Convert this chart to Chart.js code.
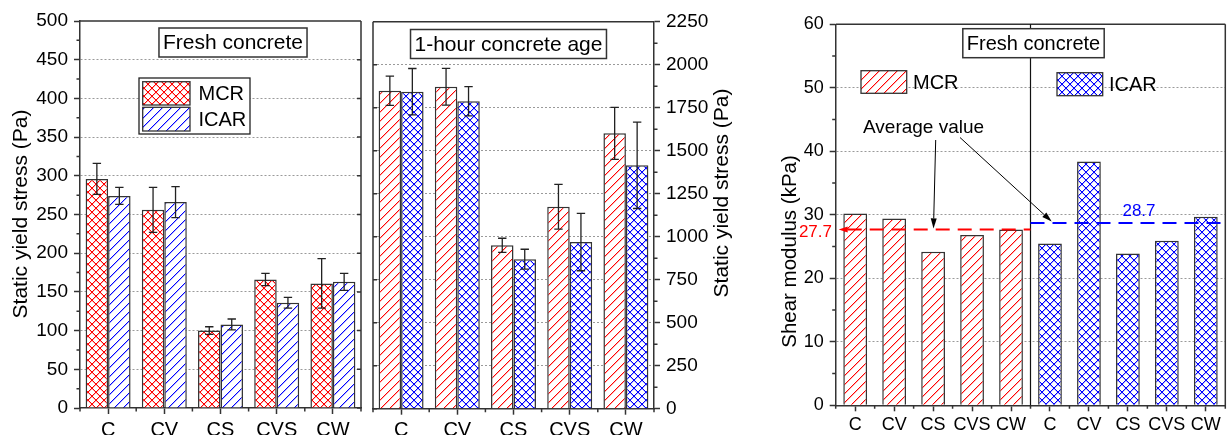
<!DOCTYPE html>
<html>
<head>
<meta charset="utf-8">
<script src="https://cdn.jsdelivr.net/npm/chart.js@4.4.1/dist/chart.umd.min.js"></script>
<style>
  body { margin: 0; width: 1228px; height: 435px; overflow: hidden; background: #fff; }
  .panel { position: absolute; top: 0; }
  #p1 { left: 0; width: 366px; height: 450px; }
  #p2 { left: 366px; width: 379px; height: 450px; }
  #p3 { left: 770px; width: 458px; height: 435px; }
</style>
</head>
<body>
<div class="panel" id="p1"><canvas id="grafico_fresh"></canvas></div>
<div class="panel" id="p2"><canvas id="grafico_hour"></canvas></div>
<div class="panel" id="p3"><canvas id="grafico_shear"></canvas></div>
<script>
const FONT = "'Liberation Sans', Arial, sans-serif"
Chart.defaults.font.family = FONT
Chart.defaults.color = '#000'
Chart.defaults.animation = false

const mixes = ['C', 'CV', 'CS', 'CVS', 'CW']

// static yield stress, fresh concrete (Pa)
const mcrFresh = [296, 256, 100, 166, 161]
const mcrFreshErr = [20, 29, 5, 8, 32]
const icarFresh = [274, 266, 108, 136, 163]
const icarFreshErr = [11, 20, 7, 7, 11]

// static yield stress, 1-hour concrete age (Pa)
const mcrHour = [1849, 1872, 950, 1174, 1601]
const mcrHourErr = [85, 107, 41, 130, 151]
const icarHour = [1843, 1787, 869, 969, 1415]
const icarHourErr = [135, 85, 58, 167, 251]

// shear modulus, fresh concrete (kPa)
const mcrShear = [30.2, 29.4, 24.2, 26.8, 27.7]
const icarShear = [25.5, 38.4, 23.9, 25.9, 29.7]
const mcrShearAvg = 27.7
const icarShearAvg = 28.7

const INK = '#333'
const RED = '#ff0000'
const BLUE = '#0000ff'

// hatch fill for the bars, drawn pixel by pixel so the colour stays pure
function hatch(color, size, cross) {
  const c = document.createElement('canvas')
  c.width = size
  c.height = size
  const g = c.getContext('2d')
  g.fillStyle = '#fff'
  g.fillRect(0, 0, size, size)
  g.fillStyle = color
  for (let i = 0; i < size; i++) {
    g.globalAlpha = 1
    g.fillRect(i, size - 1 - i, 1, 1)
    if (cross) g.fillRect(i, i, 1, 1)
    g.globalAlpha = 0.3
    g.fillRect(i, (size - i) % size, 1, 1)
    if (cross) g.fillRect(i, (i + 1) % size, 1, 1)
  }
  return g.createPattern(c, 'repeat')
}

function label(ctx, str, x, y, size, color, align, rot) {
  ctx.save()
  ctx.font = size + 'px ' + FONT
  ctx.fillStyle = color || '#000'
  ctx.textAlign = align || 'center'
  ctx.textBaseline = 'middle'
  ctx.translate(x, y)
  if (rot) ctx.rotate(rot)
  ctx.fillText(str, 0, 0)
  ctx.restore()
}

function titleBox(ctx, str, cx, cy, size) {
  ctx.save()
  ctx.font = size + 'px ' + FONT
  const w = ctx.measureText(str).width + 8, h = 29
  ctx.fillStyle = '#fff'
  ctx.fillRect(cx - w / 2, cy - h / 2, w, h)
  ctx.strokeStyle = INK
  ctx.lineWidth = 1.5
  ctx.strokeRect(cx - w / 2, cy - h / 2, w, h)
  ctx.restore()
  label(ctx, str, cx, cy + 1, size)
}

function swatch(ctx, ds, x, y, w, h) {
  ctx.save()
  ctx.fillStyle = ds.backgroundColor
  ctx.fillRect(x, y, w, h)
  ctx.strokeStyle = INK
  ctx.lineWidth = 1.3
  ctx.strokeRect(x, y, w, h)
  ctx.restore()
}

function arrow(ctx, x1, y1, x2, y2, color, head) {
  const ang = Math.atan2(y2 - y1, x2 - x1)
  const cx = Math.cos(ang), sy = Math.sin(ang)
  ctx.save()
  ctx.strokeStyle = color
  ctx.fillStyle = color
  ctx.lineWidth = 1
  ctx.beginPath()
  ctx.moveTo(x1, y1)
  ctx.lineTo(x2 - cx * head, y2 - sy * head)
  ctx.stroke()
  ctx.beginPath()
  ctx.moveTo(x2, y2)
  ctx.lineTo(x2 - cx * head - sy * 3, y2 - sy * head + cx * 3)
  ctx.lineTo(x2 - cx * head + sy * 3, y2 - sy * head - cx * 3)
  ctx.closePath()
  ctx.fill()
  ctx.restore()
}

// error bars from dataset.errors
const errorBars = {
  id: 'errorBars',
  afterDatasetsDraw(chart) {
    const ctx = chart.ctx
    chart.data.datasets.forEach((ds, i) => {
      if (!ds.errors) return
      const meta = chart.getDatasetMeta(i)
      const y = chart.scales[meta.yAxisID]
      meta.data.forEach((bar, j) => {
        const top = y.getPixelForValue(ds.data[j] + ds.errors[j])
        const bot = y.getPixelForValue(ds.data[j] - ds.errors[j])
        ctx.save()
        ctx.strokeStyle = '#222'
        ctx.lineWidth = 1.3
        ctx.beginPath()
        ctx.moveTo(bar.x, top); ctx.lineTo(bar.x, bot)
        ctx.moveTo(bar.x - 4.2, top); ctx.lineTo(bar.x + 4.2, top)
        ctx.moveTo(bar.x - 4.2, bot); ctx.lineTo(bar.x + 4.2, bot)
        ctx.stroke()
        ctx.restore()
      })
    })
  }
}

// frame, minor ticks and mirrored ticks
function frame(chart, mirror) {
  const { ctx, chartArea: a } = chart
  const x = chart.scales.x, y = chart.scales.y
  const leftAxis = y.position === 'left'
  const edge = leftAxis ? a.left : a.right
  const side = leftAxis ? a.right : a.left
  const dir = leftAxis ? -1 : 1
  ctx.save()
  ctx.strokeStyle = INK
  ctx.lineWidth = 1.5
  ctx.beginPath()
  ctx.moveTo(a.left, a.top); ctx.lineTo(a.right, a.top)
  ctx.moveTo(side, a.top); ctx.lineTo(side, a.bottom)
  for (let i = 0; i < y.ticks.length - 1; i++) {
    const p = y.getPixelForValue((y.ticks[i].value + y.ticks[i + 1].value) / 2)
    ctx.moveTo(edge, p); ctx.lineTo(edge + dir * 3.5, p)
  }
  for (let i = 0; i <= x.ticks.length; i++) {
    const p = x.getPixelForValue(i - 0.5)
    ctx.moveTo(p, a.bottom); ctx.lineTo(p, a.bottom + 3.5)
  }
  if (mirror) {
    y.ticks.forEach(t => {
      const p = y.getPixelForValue(t.value)
      ctx.moveTo(side, p); ctx.lineTo(side + dir * 4, p)
    })
  }
  ctx.stroke()
  ctx.restore()
}

function yAxis(max, step, pos, width, size) {
  return {
    position: pos,
    min: 0,
    max: max,
    ticks: { stepSize: step, font: { size: size }, color: '#000', padding: 6, callback: v => String(v) },
    grid: {
      color: c => (c.tick.value === 0 || c.tick.value === max) ? 'rgba(0,0,0,0)' : '#9a9a9a',
      lineWidth: 1,
      tickLength: 6,
      tickColor: INK,
      tickWidth: 1.5,
      tickBorderDash: []
    },
    border: { color: INK, width: 1.5, dash: [2, 2] },
    afterFit(s) { s.width = width }
  }
}

function xAxis(height, size, pad) {
  return {
    ticks: { font: { size: size }, color: '#000', padding: pad, maxRotation: 0, autoSkip: false },
    grid: { drawOnChartArea: false, offset: false, tickLength: 6, tickColor: INK, tickWidth: 1.5 },
    border: { color: INK, width: 1.5 },
    afterFit(s) { s.height = height }
  }
}

// ---- panel 1: fresh concrete
const ctx1 = document.getElementById('grafico_fresh')
new Chart(ctx1, {
  type: 'bar',
  data: {
    labels: mixes,
    datasets: [
      { label: 'MCR', data: mcrFresh, errors: mcrFreshErr, backgroundColor: hatch(RED, 8, true), borderColor: INK, borderWidth: 1.5 },
      { label: 'ICAR', data: icarFresh, errors: icarFreshErr, backgroundColor: hatch(BLUE, 9, false), borderColor: INK, borderWidth: 1.5 }
    ]
  },
  options: {
    responsive: true,
    maintainAspectRatio: false,
    layout: { padding: { top: 21, right: 5, left: 0, bottom: 0 } },
    datasets: { bar: { categoryPercentage: 0.8, barPercentage: 1 } },
    plugins: { legend: { display: false }, tooltip: { enabled: false } },
    scales: { x: xAxis(42, 20, 4), y: yAxis(500, 50, 'left', 80, 19) }
  },
  plugins: [errorBars, {
    id: 'decor1',
    afterDraw(chart) {
      const ctx = chart.ctx
      frame(chart, true)
      label(ctx, 'Static yield stress (Pa)', 21, 214, 21, '#000', 'center', -Math.PI / 2)
      titleBox(ctx, 'Fresh concrete', 233, 42.5, 21)
      ctx.save()
      ctx.fillStyle = '#fff'
      ctx.fillRect(139, 78, 111, 56)
      ctx.strokeStyle = '#222'
      ctx.lineWidth = 1.3
      ctx.strokeRect(139, 78, 111, 56)
      ctx.restore()
      const ds = chart.data.datasets
      swatch(ctx, ds[0], 142.7, 81.7, 47.3, 23.3)
      swatch(ctx, ds[1], 142.7, 107.3, 47.3, 23.7)
      label(ctx, ds[0].label, 198.5, 94, 20, '#000', 'left')
      label(ctx, ds[1].label, 198.5, 120, 20, '#000', 'left')
    }
  }]
})

// ---- panel 2: 1-hour concrete age
const ctx2 = document.getElementById('grafico_hour')
new Chart(ctx2, {
  type: 'bar',
  data: {
    labels: mixes,
    datasets: [
      { label: 'MCR', data: mcrHour, errors: mcrHourErr, backgroundColor: hatch(RED, 9, false), borderColor: INK, borderWidth: 1.5 },
      { label: 'ICAR', data: icarHour, errors: icarHourErr, backgroundColor: hatch(BLUE, 8, true), borderColor: INK, borderWidth: 1.5 }
    ]
  },
  options: {
    responsive: true,
    maintainAspectRatio: false,
    layout: { padding: { top: 21.7, right: 0, left: 7, bottom: 0 } },
    datasets: { bar: { categoryPercentage: 0.8, barPercentage: 1 } },
    plugins: { legend: { display: false }, tooltip: { enabled: false } },
    scales: { x: xAxis(41.3, 20, 4), y: yAxis(2250, 250, 'right', 91, 19) }
  },
  plugins: [errorBars, {
    id: 'decor2',
    afterDraw(chart) {
      const ctx = chart.ctx
      frame(chart, true)
      label(ctx, 'Static yield stress (Pa)', 356, 193, 21, '#000', 'center', -Math.PI / 2)
      titleBox(ctx, '1-hour concrete age', 142.5, 44, 21)
    }
  }]
})

// ---- panel 3: shear modulus
const blanks = mixes.map(() => null)
const ctx3 = document.getElementById('grafico_shear')
new Chart(ctx3, {
  type: 'bar',
  data: {
    labels: mixes.concat(mixes),
    datasets: [
      { label: 'MCR', data: mcrShear.concat(blanks), backgroundColor: hatch(RED, 9, false), borderColor: INK, borderWidth: 1.5, skipNull: true },
      { label: 'ICAR', data: blanks.concat(icarShear), backgroundColor: hatch(BLUE, 8, true), borderColor: INK, borderWidth: 1.5, skipNull: true }
    ]
  },
  options: {
    responsive: true,
    maintainAspectRatio: false,
    layout: { padding: { top: 24.3, right: 2.7, left: 0, bottom: 0 } },
    datasets: { bar: { categoryPercentage: 0.61, barPercentage: 1 } },
    plugins: { legend: { display: false }, tooltip: { enabled: false } },
    scales: { x: xAxis(29.7, 18, 3), y: yAxis(60, 10, 'left', 65.7, 18) }
  },
  plugins: [{
    id: 'decor3',
    afterDraw(chart) {
      const { ctx, chartArea: a } = chart
      const x = chart.scales.x, y = chart.scales.y
      frame(chart, false)
      const mid = x.getPixelForValue(mixes.length - 0.5)
      ctx.save()
      ctx.strokeStyle = '#111'
      ctx.lineWidth = 1.2
      ctx.beginPath()
      ctx.moveTo(mid, a.top); ctx.lineTo(mid, a.bottom)
      ctx.stroke()
      // average lines
      const ym = y.getPixelForValue(mcrShearAvg)
      const yi = y.getPixelForValue(icarShearAvg)
      ctx.lineWidth = 2
      ctx.setLineDash([14, 8])
      ctx.strokeStyle = RED
      ctx.beginPath()
      ctx.moveTo(a.left + 12, ym); ctx.lineTo(mid, ym)
      ctx.stroke()
      ctx.strokeStyle = BLUE
      ctx.beginPath()
      ctx.moveTo(mid, yi); ctx.lineTo(a.right, yi)
      ctx.stroke()
      ctx.restore()
      arrow(ctx, a.left + 14, ym, a.left + 3, ym, RED, 9)
      label(ctx, mcrShearAvg.toFixed(1), 62, ym + 3, 17, RED, 'right')
      label(ctx, icarShearAvg.toFixed(1), 369, yi - 12, 17, BLUE, 'center')
      label(ctx, 'Average value', 93, 128, 19, '#000', 'left')
      arrow(ctx, 165.7, 140, 163.5, ym - 1, '#000', 10)
      arrow(ctx, 190, 137.5, 281.7, yi - 1.5, '#000', 10)
      label(ctx, 'Shear modulus (kPa)', 20, 251.5, 20.5, '#000', 'center', -Math.PI / 2)
      titleBox(ctx, 'Fresh concrete', 263.5, 43.2, 20)
      const ds = chart.data.datasets
      swatch(ctx, ds[0], 91, 70.7, 45.7, 22.6)
      label(ctx, ds[0].label, 143, 83, 20, '#000', 'left')
      swatch(ctx, ds[1], 287, 72.7, 45.7, 23)
      label(ctx, ds[1].label, 339, 85, 20, '#000', 'left')
    }
  }]
})
</script>
</body>
</html>
